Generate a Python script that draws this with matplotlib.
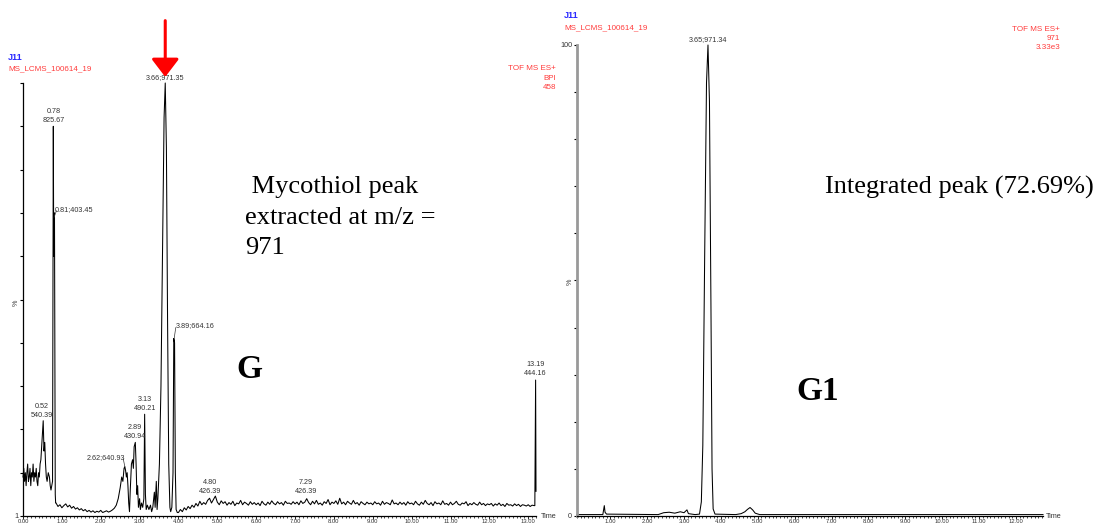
import numpy as np
import matplotlib
matplotlib.use("Agg")
import matplotlib.pyplot as plt
from matplotlib.ticker import MultipleLocator, FixedLocator, FixedFormatter

# ---------------- data ----------------
# Left chromatogram (BPI), explicit points: early region
left_t_a = [0.00, 0.02, 0.04, 0.06, 0.08, 0.10, 0.12, 0.14, 0.16, 0.18, 0.20, 0.22,
            0.24, 0.26, 0.28, 0.30, 0.32, 0.34, 0.36, 0.38, 0.40, 0.42, 0.44, 0.46,
            0.48, 0.50, 0.52, 0.54, 0.56, 0.58, 0.60, 0.62, 0.65, 0.68, 0.70, 0.72,
            0.76, 0.77, 0.78, 0.79, 0.80, 0.81, 0.82, 0.83, 0.84]
left_v_a = [9, 11, 8, 10, 7, 10, 12, 8, 9, 11, 7, 10,
            9, 12, 8, 10, 9, 11, 8, 7, 10, 9, 12, 13,
            16, 19, 22, 15, 17, 12, 9, 8, 10, 9, 7, 6,
            8, 50, 90, 60, 68, 70, 35, 5, 3]
# baseline after solvent front
left_t_b = [0.85, 0.90, 0.95, 1.00, 1.05, 1.10, 1.15, 1.20, 1.25, 1.30, 1.35, 1.40,
            1.45, 1.50, 1.55, 1.60, 1.65, 1.70, 1.75, 1.80, 1.85, 1.90, 1.95, 2.00,
            2.05, 2.10, 2.15, 2.20, 2.25, 2.30, 2.35]
left_v_b = [3.0, 2.2, 2.6, 1.9, 2.4, 2.8, 2.1, 2.5, 1.8, 2.2, 1.6, 1.9,
            1.4, 1.7, 1.2, 1.5, 1.0, 1.3, 0.9, 1.2, 0.8, 1.1, 0.9, 1.3,
            0.8, 1.0, 1.2, 0.9, 1.1, 1.4, 1.8]
# peak cluster 2.4 - 4.0 min
left_t_c = [2.40, 2.45, 2.50, 2.54, 2.57, 2.60, 2.62, 2.64, 2.66, 2.68, 2.70, 2.72,
            2.74, 2.76, 2.79, 2.82, 2.84, 2.86, 2.89, 2.91, 2.93, 2.95, 2.97, 3.00,
            3.02, 3.05, 3.08, 3.11, 3.13, 3.15, 3.17, 3.20, 3.24, 3.28, 3.31, 3.34,
            3.38, 3.40, 3.43, 3.45, 3.47, 3.51, 3.55, 3.59, 3.63, 3.66, 3.69, 3.72,
            3.75, 3.78, 3.80, 3.83, 3.86, 3.88, 3.90, 3.92, 3.94, 3.97]
left_v_c = [2.5, 4, 6.5, 9, 8, 11, 11.4, 10.5, 9, 10, 7, 3,
            1, 6, 12, 13, 11, 16, 17, 12, 5, 7, 2, 4,
            1.5, 3, 2, 4, 23.5, 5, 1.5, 2.5, 1.5, 2.5, 1.0, 2.0,
            5.5, 2.0, 8, 1.5, 4, 12, 30, 60, 92, 100, 85, 45,
            12, 2, 1, 2, 10, 41, 40, 10, 1.5, 0.8]
# noisy baseline 4.00 - 13.15 min, one value every 0.05 min
left_v_d = [
    0.8, 1.5, 1.0, 1.9, 1.4, 2.2, 1.7, 2.5, 2.0, 2.9, 2.3, 3.4, 2.6, 3.1, 2.7, 3.6, 4.1, 3.0, 3.8, 4.6,
    3.2, 2.6, 3.5, 2.9, 3.3, 2.5, 3.1, 2.7, 3.4, 2.4, 3.0, 2.8, 3.6, 2.6, 3.2, 2.9, 2.5, 3.3, 2.7, 3.1,
    2.6, 3.0, 2.4, 3.4, 2.8, 2.5, 3.2, 2.7, 3.5, 2.9, 2.6, 3.3, 2.8, 3.1, 2.5, 3.4, 2.9, 3.0, 2.7, 3.3,
    2.8, 3.2, 2.6, 3.5, 2.9, 3.2, 4.0, 3.1, 2.6, 3.4, 2.8, 3.6, 2.7, 3.0, 2.5, 3.3, 2.9, 3.8, 2.6, 3.2,
    2.9, 3.5, 2.7, 4.1, 2.8, 3.2, 2.6, 3.4, 3.0, 2.7, 3.6, 2.8, 3.1, 2.5, 3.3, 2.9, 2.6, 3.2, 2.8, 3.0,
    2.6, 3.3, 2.8, 3.0, 2.5, 3.4, 2.7, 3.1, 2.9, 2.6, 3.7, 2.8, 3.0, 2.6, 3.2, 2.7, 3.1, 2.5, 3.3, 2.8,
    3.0, 2.6, 3.4, 2.8, 2.5, 3.2, 2.7, 3.6, 2.9, 2.6, 3.1, 2.4, 3.3, 2.8, 3.0, 2.6, 3.5, 2.7, 2.9, 2.5,
    3.2, 2.6, 2.9, 3.4, 2.7, 2.5, 3.0, 2.8, 3.3, 2.4, 2.9, 2.6, 3.1, 2.7, 2.5, 3.2, 2.6, 2.9, 2.4, 2.8,
    2.6, 2.9, 2.3, 2.8, 2.5, 3.0, 2.4, 2.7, 2.2, 2.9, 2.5, 2.6, 2.3, 2.8, 2.4, 2.7, 2.2, 2.6, 2.5, 2.3,
    2.6, 2.2, 2.5, 2.4]
left_t_d_start = 4.00
left_t_d_step = 0.05
# end peak
left_t_e = [13.17, 13.19, 13.20]
left_v_e = [2.4, 31.4, 5.7]

# Right chromatogram (extracted m/z 971)
right_t = [0.10, 0.80, 0.84, 0.86, 0.90, 2.30, 2.45, 2.60, 2.75, 2.90, 3.00, 3.08,
           3.12, 3.30, 3.42, 3.47, 3.51, 3.56, 3.61, 3.65, 3.69, 3.73, 3.76, 3.79,
           3.84, 4.40, 4.55, 4.65, 4.72, 4.79, 4.86, 4.93, 5.05, 12.73]
right_v = [0.3, 0.3, 2.2, 0.8, 0.4, 0.3, 0.7, 0.8, 0.6, 0.9, 0.7, 1.3,
           0.5, 0.3, 0.4, 3, 15, 55, 92, 100, 88, 45, 10, 1.5,
           0.4, 0.3, 0.5, 0.9, 1.4, 1.8, 1.3, 0.6, 0.3, 0.3]

# peak annotations: (time, label y in %, text, ha, va)
left_labels = [
    (3.66, 100.4, "3.66;971.35", "center", "bottom"),
    (0.78, 90.5, "0.78\n825.67", "center", "bottom"),
    (0.82, 70.8, "0.81;403.45", "left", "center"),
    (3.92, 43.9, "3.89;664.16", "left", "center"),
    (13.19, 32.0, "13.19\n444.16", "center", "bottom"),
    (0.49, 22.5, "0.52\n540.39", "center", "bottom"),
    (3.13, 24.0, "3.13\n490.21", "center", "bottom"),
    (2.88, 17.5, "2.89\n430.94", "center", "bottom"),
    (2.62, 13.5, "2.62;640.93", "right", "center"),
    (4.81, 4.8, "4.80\n426.39", "center", "bottom"),
    (7.28, 4.8, "7.29\n426.39", "center", "bottom"),
]
right_labels = [(3.65, 100.4, "3.65;971.34", "center", "bottom")]

# ---------------- assemble ----------------
left_t_d = [round(left_t_d_start + i * left_t_d_step, 2) for i in range(len(left_v_d))]
left_t = left_t_a + left_t_b + left_t_c + left_t_d + left_t_e
left_v = left_v_a + left_v_b + left_v_c + left_v_d + left_v_e

W, H = 1099, 527
fig = plt.figure(figsize=(W / 100, H / 100), dpi=100)
SANS = "Liberation Sans"
SERIF = "Liberation Serif"
RED = "#ff3b3b"
BLUE = "#2b2bff"
TXT = "#333333"
SMALL = 5.2


def fx(x):
    return x / W


def fy(y):
    return 1 - y / H


BOT = 516  # pixel row of the time axes
axL = fig.add_axes([fx(23), (H - BOT) / H, 513 / W, (BOT - 83) / H])
axR = fig.add_axes([fx(577), (H - BOT) / H, 466 / W, (BOT - 45) / H])

axL.plot(left_t, left_v, color="black", lw=0.75, clip_on=False)
axR.plot(right_t, right_v, color="black", lw=0.75, clip_on=False)

axL.set_xlim(0, 13.2)
axR.set_xlim(0.1, 12.73)
for ax in (axL, axR):
    ax.set_ylim(0, 100)
    for s in ("top", "right"):
        ax.spines[s].set_visible(False)
    ax.spines["bottom"].set_linewidth(0.9)
    ax.xaxis.set_major_locator(MultipleLocator(1.0))
    ax.xaxis.set_minor_locator(MultipleLocator(0.1))
    ax.xaxis.set_major_formatter(matplotlib.ticker.FormatStrFormatter("%.2f"))
    ax.tick_params(axis="x", which="major", length=2.2, width=0.6, pad=0.3,
                   labelsize=4.2, labelcolor=TXT)
    ax.tick_params(axis="x", which="minor", length=1.4, width=0.5)
    ax.yaxis.set_major_locator(FixedLocator(list(range(0, 101, 10))))
    ax.tick_params(axis="y", which="major", length=2.5, width=0.8, pad=1,
                   labelsize=SMALL, labelcolor=TXT)
    ax.patch.set_alpha(0)
    for lab in ax.get_xticklabels() + ax.get_yticklabels():
        lab.set_fontfamily(SANS)

axL.yaxis.set_major_formatter(FixedFormatter(["1"] + [""] * 10))
axR.yaxis.set_major_formatter(FixedFormatter(["0"] + [""] * 9 + ["100"]))
axL.spines["left"].set_linewidth(0.9)
axR.spines["left"].set_color("#999999")
axR.spines["left"].set_linewidth(2.0)

# "%" axis labels
fig.text(fx(16), fy(303), "%", rotation=90, fontsize=SMALL, family=SANS, color=TXT,
         ha="center", va="center")
fig.text(fx(570), fy(282), "%", rotation=90, fontsize=SMALL, family=SANS, color=TXT,
         ha="center", va="center")
# "Time" labels
fig.text(fx(541), fy(BOT + 1), "Time", fontsize=SMALL, family=SANS, color=TXT, ha="left", va="center")
fig.text(fx(1046), fy(BOT), "Time", fontsize=SMALL, family=SANS, color=TXT, ha="left", va="center")

# headers
fig.text(fx(8), fy(57), "J11", fontsize=6.5, family=SANS, weight="bold", color=BLUE, va="center")
fig.text(fx(8), fy(69), "MS_LCMS_100614_19", fontsize=5.8, family=SANS, color=RED, va="center")
fig.text(fx(556), fy(78), "TOF MS ES+\nBPI\n458", fontsize=5.8, family=SANS, color=RED,
         ha="right", va="center", linespacing=1.45, multialignment="right")
fig.text(fx(564), fy(15), "J11", fontsize=6.5, family=SANS, weight="bold", color=BLUE, va="center")
fig.text(fx(564), fy(28), "MS_LCMS_100614_19", fontsize=5.8, family=SANS, color=RED, va="center")
fig.text(fx(1060), fy(38.5), "TOF MS ES+\n971\n3.33e3", fontsize=5.8, family=SANS, color=RED,
         ha="right", va="center", linespacing=1.45, multialignment="right")

# peak labels
for ax, labs in ((axL, left_labels), (axR, right_labels)):
    for t, y, s, ha, va in labs:
        ax.text(t, y, s, fontsize=SMALL, family=SANS, color=TXT, ha=ha, va=va,
                linespacing=1.4, multialignment="center", clip_on=False)

# small leader lines
axL.plot([0.80, 0.86], [69.0, 70.5], color=TXT, lw=0.5, clip_on=False)
axL.plot([3.89, 3.93], [41.0, 43.5], color=TXT, lw=0.5, clip_on=False)
axL.plot([2.58, 2.62], [13.2, 11.4], color=TXT, lw=0.5, clip_on=False)

# red arrow pointing to the mycothiol peak
axL.annotate("", xy=(3.66, 101.4), xytext=(3.66, 114.4),
             xycoords="data", textcoords="data",
             arrowprops=dict(arrowstyle="-|>,head_length=0.55,head_width=0.42",
                             color="#ff0000", lw=2.2, mutation_scale=20,
                             shrinkA=0, shrinkB=0),
             annotation_clip=False)

# big annotations
fig.text(fx(245), fy(176), " Mycothiol peak\nextracted at m/z =\n971", fontsize=19,
         family=SERIF, color="black", ha="left", va="top", linespacing=1.5)
fig.text(fx(825), fy(187), "Integrated peak (72.69%)", fontsize=19, family=SERIF,
         color="black", ha="left", va="center")
fig.text(fx(236), fy(370), "G", fontsize=24, family=SERIF, weight="bold",
         color="black", ha="left", va="center")
fig.text(fx(796), fy(392), "G1", fontsize=24, family=SERIF, weight="bold",
         color="black", ha="left", va="center")

fig.savefig("out.png", dpi=100)
